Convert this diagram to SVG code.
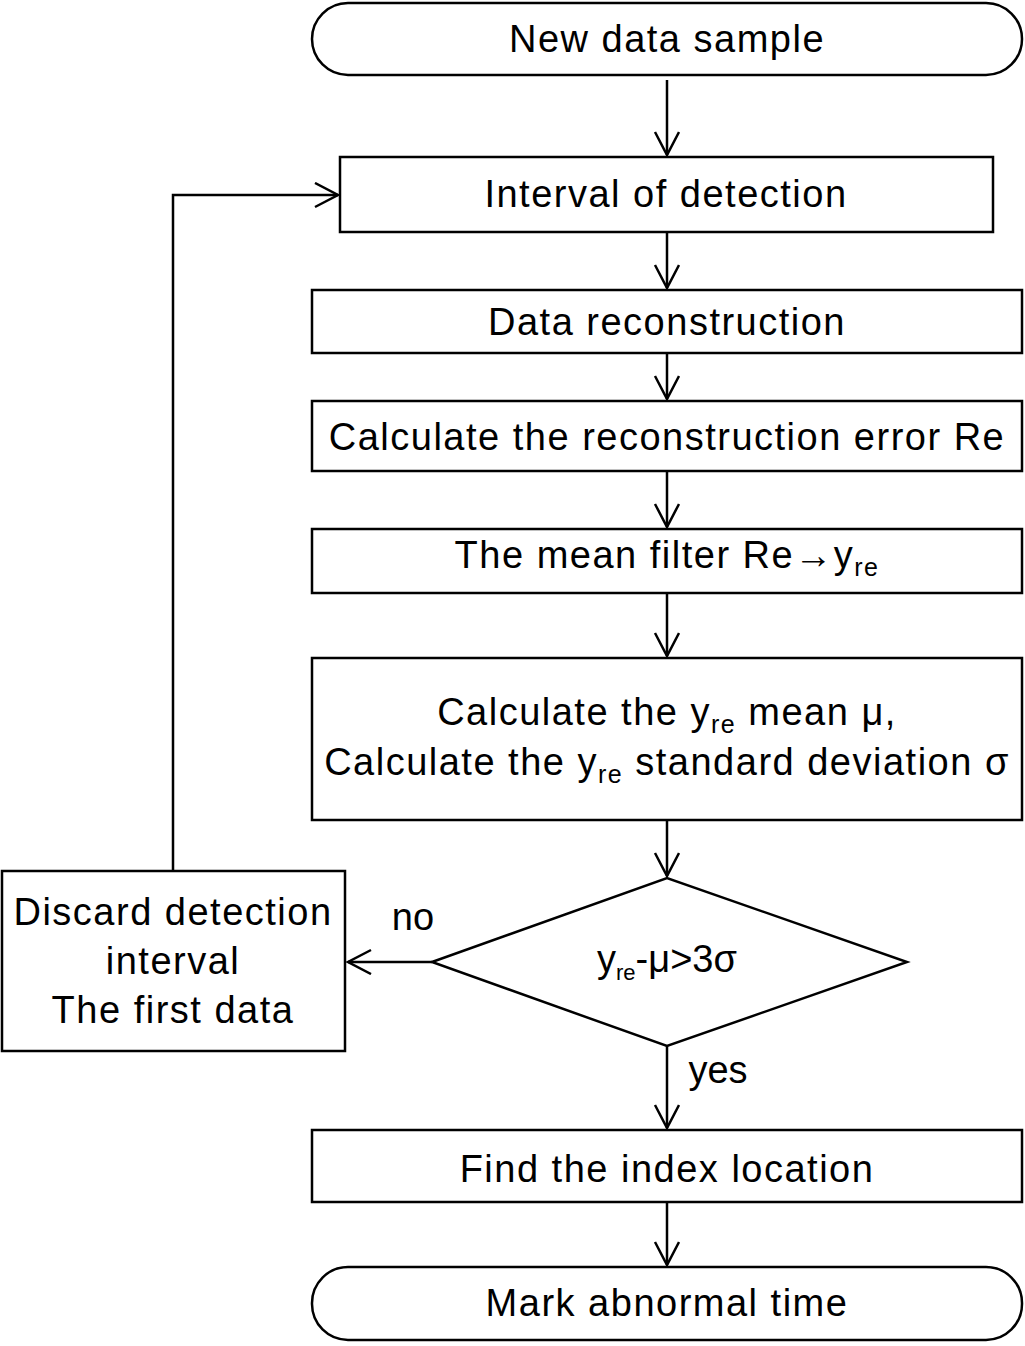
<svg xmlns="http://www.w3.org/2000/svg" width="1025" height="1346" viewBox="0 0 1025 1346">
<style>
.b{fill:#fff;stroke:#000;stroke-width:2.5}
text{font-family:"Liberation Sans",Arial,sans-serif;font-size:38px;letter-spacing:1.5px;fill:#000;text-anchor:middle}
.c{fill:none;stroke:#000;stroke-width:2.5}
</style>
<defs><marker id="a" markerWidth="30" markerHeight="30" refX="25" refY="13" orient="auto" markerUnits="userSpaceOnUse"><path d="M2,1 L25,13 L2,25" fill="none" stroke="#000" stroke-width="2.5"/></marker></defs>
<rect width="1025" height="1346" fill="#fff"/>
<g id="n1"><rect class="b" x="312" y="3" width="710" height="72" rx="36"/><text x="667" y="52">New data sample</text></g>
<g id="n2"><rect class="b" x="340" y="157" width="653" height="75"/><text x="666" y="207">Interval of detection</text></g>
<g id="n3"><rect class="b" x="312" y="290" width="710" height="63"/><text x="667" y="335">Data reconstruction</text></g>
<g id="n4"><rect class="b" x="312" y="401" width="710" height="70"/><text x="667" y="450">Calculate the reconstruction error Re</text></g>
<g id="n5"><rect class="b" x="312" y="529" width="710" height="64"/><text x="667" y="568">The mean filter Re→y<tspan font-size="25" dy="8">re</tspan></text></g>
<g id="n6"><rect class="b" x="312" y="658" width="710" height="162"/><text x="667" y="725">Calculate the y<tspan font-size="25" dy="8">re</tspan><tspan dy="-8"> mean μ,</tspan></text><text x="667" y="775">Calculate the y<tspan font-size="25" dy="8">re</tspan><tspan dy="-8"> standard deviation σ</tspan></text></g>
<g id="n7"><polygon class="b" points="432,962 667,878 907,962 667,1046"/><text x="667" y="972" font-size="32" style="letter-spacing:0">y<tspan font-size="22" dy="8">re</tspan><tspan dy="-8">-μ&gt;3σ</tspan></text></g>
<g id="n8"><rect class="b" x="2" y="871" width="343" height="180"/><text x="173" y="925">Discard detection</text><text x="173" y="974">interval</text><text x="173" y="1023">The first data</text></g>
<g id="n9"><rect class="b" x="312" y="1130" width="710" height="72"/><text x="667" y="1182">Find the index location</text></g>
<g id="n10"><rect class="b" x="312" y="1267" width="710" height="73" rx="36"/><text x="667" y="1316">Mark abnormal time</text></g>
<g id="edges" class="c">
<line x1="667" y1="80" x2="667" y2="155" marker-end="url(#a)"/>
<line x1="667" y1="232" x2="667" y2="288" marker-end="url(#a)"/>
<line x1="667" y1="353" x2="667" y2="399" marker-end="url(#a)"/>
<line x1="667" y1="471" x2="667" y2="527" marker-end="url(#a)"/>
<line x1="667" y1="593" x2="667" y2="656" marker-end="url(#a)"/>
<line x1="667" y1="820" x2="667" y2="876" marker-end="url(#a)"/>
<line x1="432" y1="962" x2="348" y2="962" marker-end="url(#a)"/>
<line x1="667" y1="1046" x2="667" y2="1128" marker-end="url(#a)"/>
<line x1="667" y1="1202" x2="667" y2="1265" marker-end="url(#a)"/>
<polyline points="173,871 173,195 338,195" marker-end="url(#a)"/>
</g>
<text x="413" y="930" font-size="32" style="letter-spacing:0">no</text>
<text x="718" y="1083" font-size="32" style="letter-spacing:0">yes</text>
</svg>
